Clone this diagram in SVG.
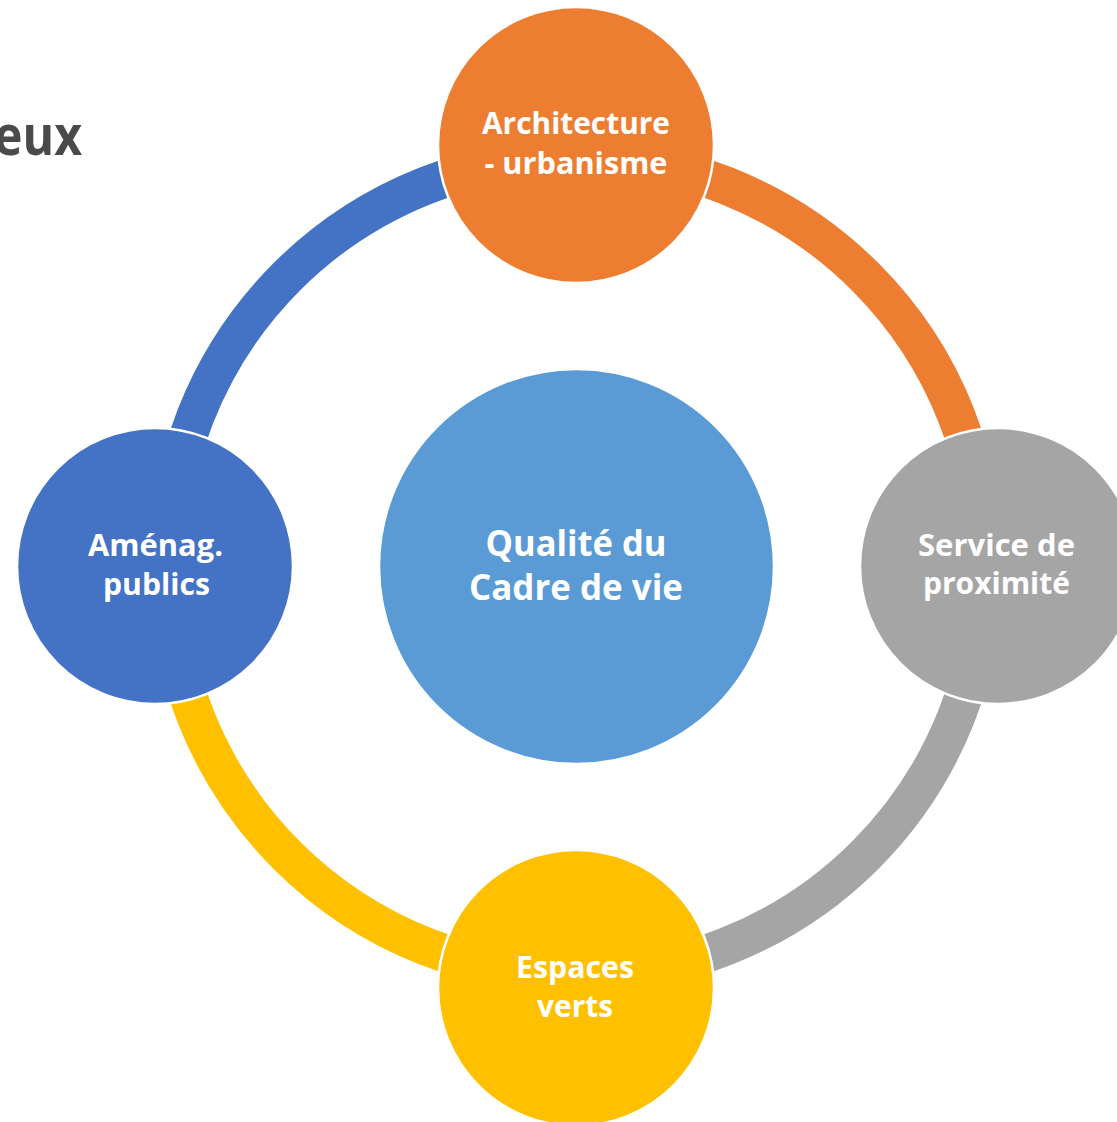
<svg xmlns="http://www.w3.org/2000/svg" width="1117" height="1122" viewBox="0 0 1117 1122">
<style>
.arc{fill:none;stroke-width:38}
.node{stroke:#ffffff;stroke-width:2.5}
.lbl{font-family:"Open Sans","Liberation Sans",sans-serif;font-weight:bold;fill:#ffffff;text-anchor:middle}
.sm{font-size:30px}
.big{font-size:36px}
</style>
<rect width="1117" height="1122" fill="#ffffff"/>
<text x="82" y="155" font-family="Open Sans, Liberation Sans, sans-serif" font-weight="bold" font-size="56" fill="#4a4a4a" text-anchor="end" textLength="88" lengthAdjust="spacingAndGlyphs">eux</text>
<g id="connectors">
<path class="arc" stroke="#4472C4" d="M 167 566 A 409 409 0 0 1 576 157"/>
<path class="arc" stroke="#ED7D31" d="M 576 157 A 409 409 0 0 1 985 566"/>
<path class="arc" stroke="#A5A5A5" d="M 985 566 A 409 409 0 0 1 576 975"/>
<path class="arc" stroke="#FFC000" d="M 576 975 A 409 409 0 0 1 167 566"/>
</g>
<g id="center">
<circle class="node" cx="576.5" cy="566.5" r="197.5" fill="#5B9BD5"/>
<text class="lbl big" x="576" y="556" textLength="181" lengthAdjust="spacingAndGlyphs">Qualité du</text>
<text class="lbl big" x="576" y="600" textLength="214" lengthAdjust="spacingAndGlyphs">Cadre de vie</text>
</g>
<g id="architecture">
<circle class="node" cx="576" cy="145" r="138" fill="#ED7D31"/>
<text class="lbl sm" x="576" y="134" textLength="188" lengthAdjust="spacingAndGlyphs">Architecture</text>
<text class="lbl sm" x="576" y="174" textLength="183" lengthAdjust="spacingAndGlyphs">- urbanisme</text>
</g>
<g id="service">
<circle class="node" cx="998" cy="566" r="138" fill="#A5A5A5"/>
<text class="lbl sm" x="996.5" y="556" textLength="157" lengthAdjust="spacingAndGlyphs">Service de</text>
<text class="lbl sm" x="996.5" y="594" textLength="147" lengthAdjust="spacingAndGlyphs">proximité</text>
</g>
<g id="espaces">
<circle class="node" cx="576" cy="988" r="138" fill="#FFC000"/>
<text class="lbl sm" x="575" y="978" textLength="118" lengthAdjust="spacingAndGlyphs">Espaces</text>
<text class="lbl sm" x="575" y="1017" textLength="76" lengthAdjust="spacingAndGlyphs">verts</text>
</g>
<g id="amenag">
<circle class="node" cx="155" cy="566" r="138" fill="#4472C4"/>
<text class="lbl sm" x="155.5" y="556" textLength="135" lengthAdjust="spacingAndGlyphs">Aménag.</text>
<text class="lbl sm" x="156.5" y="595" textLength="107" lengthAdjust="spacingAndGlyphs">publics</text>
</g>
</svg>
